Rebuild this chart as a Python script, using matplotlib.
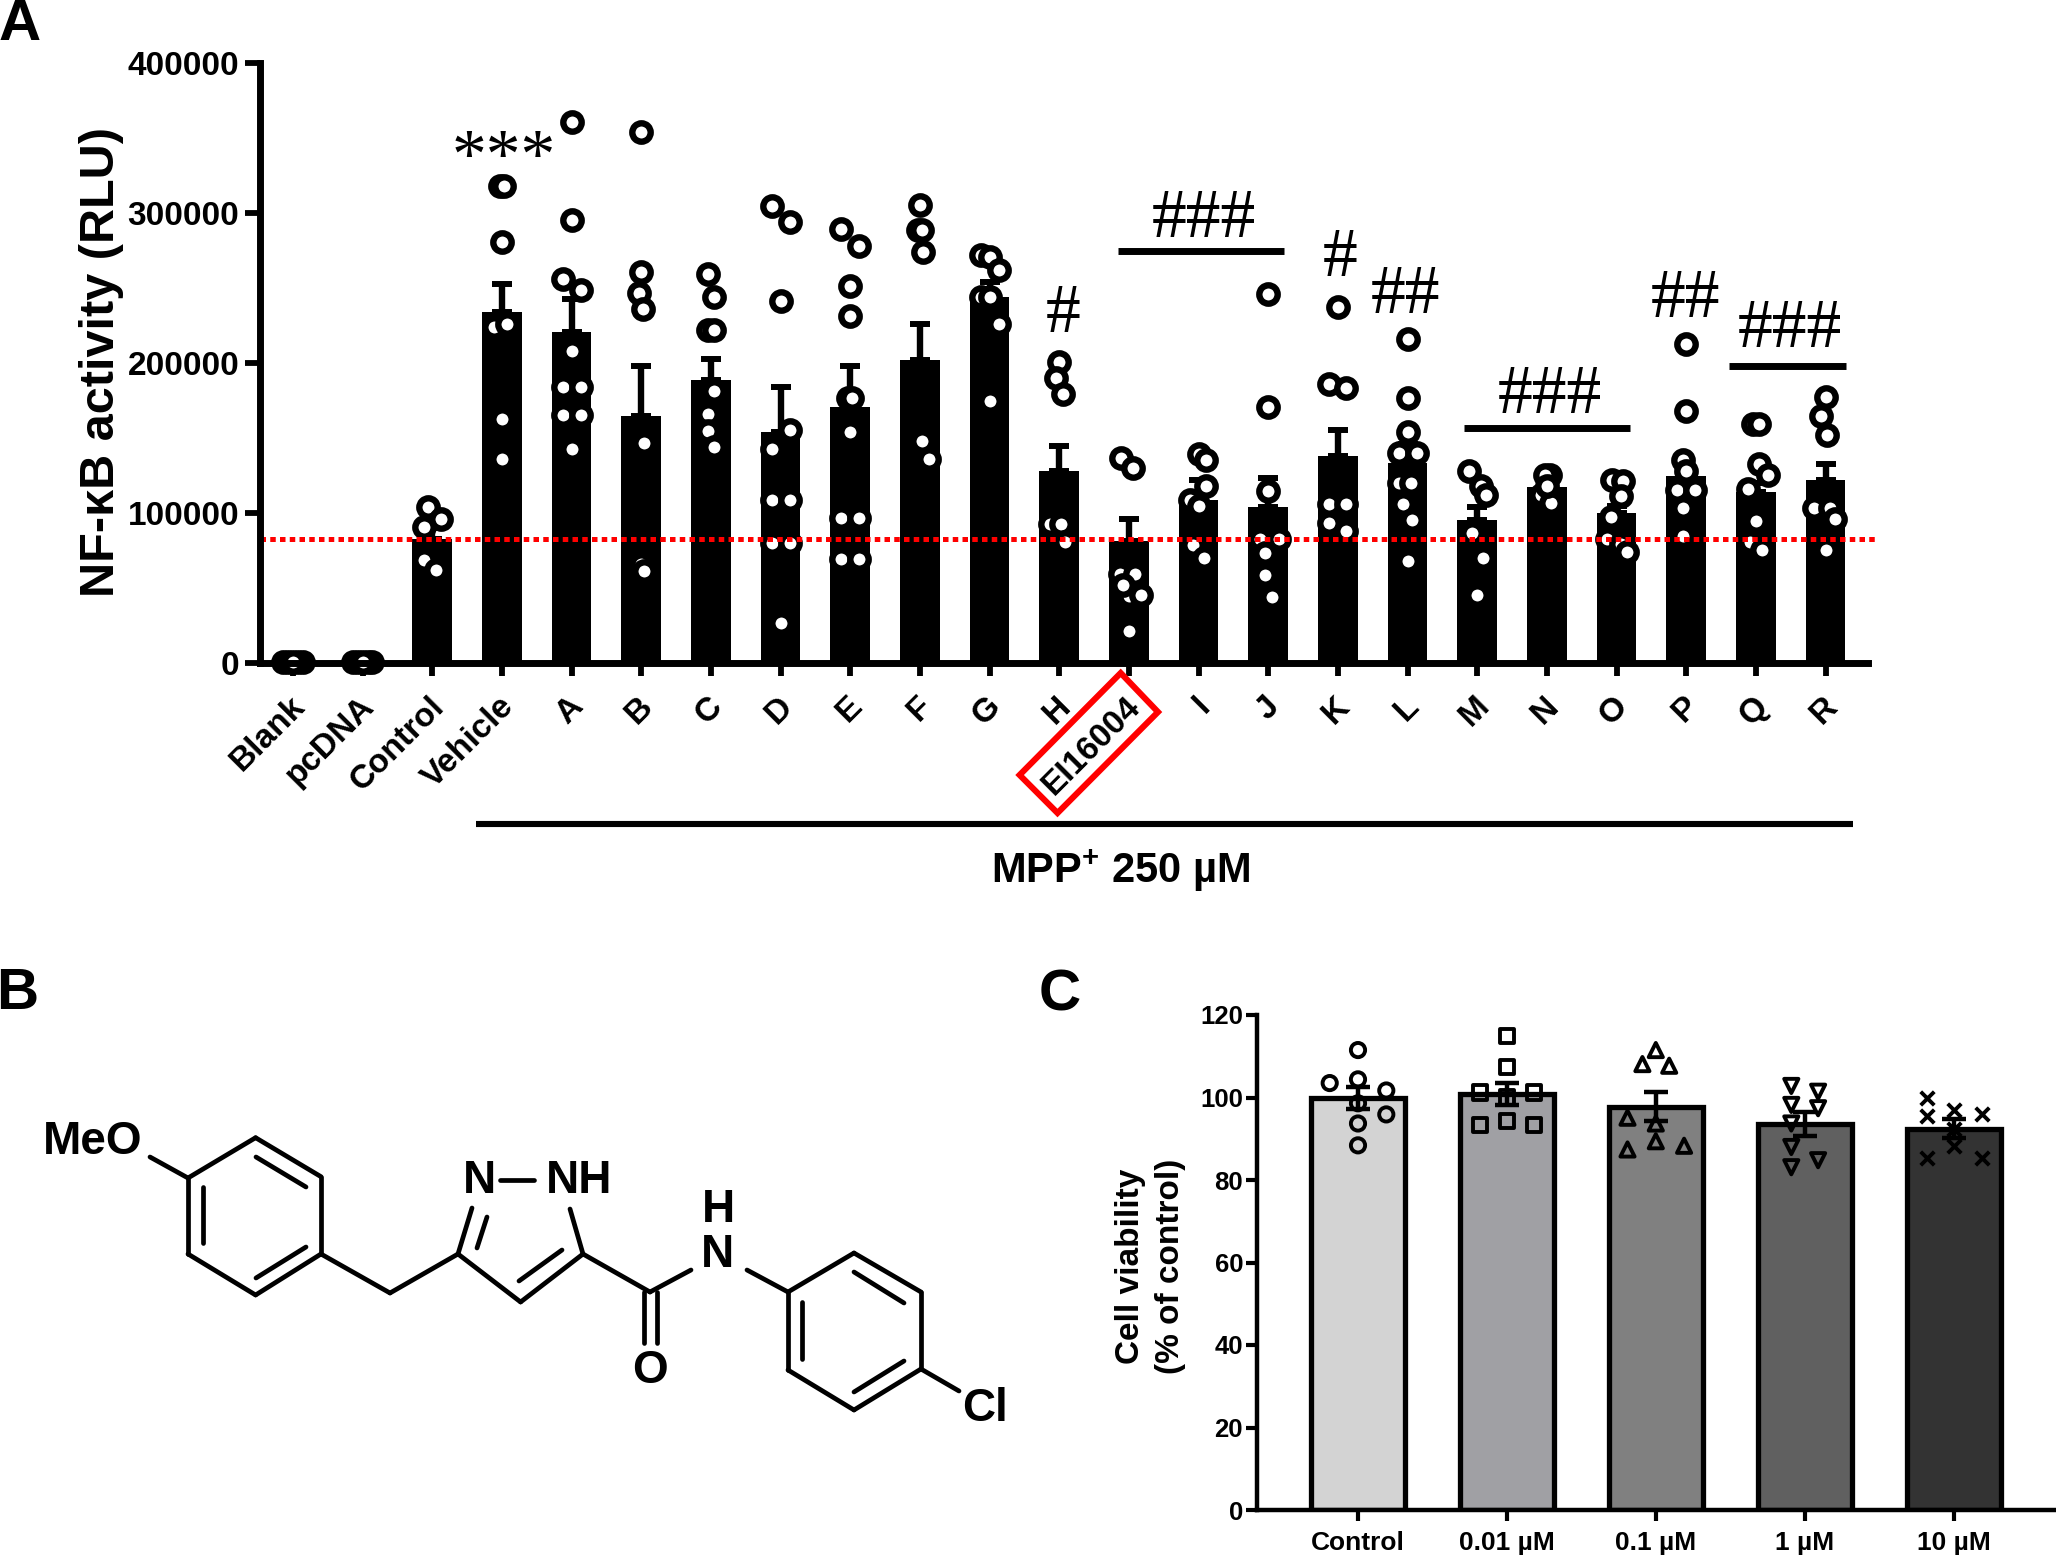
import matplotlib
matplotlib.use("Agg")
import matplotlib.pyplot as plt
from matplotlib.patches import Polygon

plt.rcParams["font.family"] = ["Liberation Sans", "DejaVu Sans"]
plt.rcParams["font.weight"] = "bold"
plt.rcParams["mathtext.fontset"] = "custom"
plt.rcParams["mathtext.rm"] = "Liberation Sans:bold"
plt.rcParams["mathtext.bf"] = "Liberation Sans:bold"

W, H = 2056, 1556

# panel A data
a_labels = ["Blank", "pcDNA", "Control", "Vehicle", "A", "B", "C", "D", "E", "F", "G", "H",
            "EI16004", "I", "J", "K", "L", "M", "N", "O", "P", "Q", "R"]
a_means = [1000, 1000, 82400, 234000, 220700, 164600, 189000, 153800, 171000, 202000, 244000, 127800,
           81400, 108800, 104000, 138000, 133500, 95400, 117200, 100000, 124700, 114000, 122000]
a_tops = [1000, 1000, 90000, 253000, 243000, 198000, 203000, 184000, 198000, 226000, 254000, 145000,
          96000, 122000, 123500, 155500, 146000, 104000, 121000, 105000, 129000, 120000, 133000]
a_points = [
    [1000, 1000, 1000, 1000, 1000],
    [1000, 1000, 1000, 1000, 1000],
    [103700, 95700, 90700, 68600, 61700],
    [318000, 318000, 280700, 224000, 226000, 163000, 136000],
    [360400, 295400, 255900, 248400, 208300, 184200, 184200, 165400, 165400, 142700],
    [354300, 260800, 246700, 236000, 146600, 65800, 61100],
    [259500, 243700, 222100, 222100, 181400, 166200, 154900, 143800],
    [304500, 294000, 241200, 155200, 142400, 108700, 108700, 79700, 79700, 26800],
    [289600, 277700, 251200, 231200, 176500, 176500, 153800, 96800, 96800, 69400, 69400],
    [305100, 289000, 289000, 273800, 148300, 135800],
    [271900, 270500, 262200, 244200, 244200, 225700, 174800],
    [200800, 190000, 179200, 92900, 92900, 80500],
    [136400, 129800, 59600, 59600, 44700, 45100, 21300, 52000],
    [139200, 135200, 118100, 109000, 78400, 69700, 105000],
    [246100, 171000, 114800, 83000, 83000, 73200, 58700, 43700],
    [237600, 186200, 183600, 106000, 106000, 93100, 87900],
    [215700, 176400, 153900, 139900, 139900, 120000, 120000, 106000, 95400, 67800],
    [127700, 118100, 111800, 86500, 69700, 45100],
    [125400, 125400, 111800, 106400, 118000],
    [122300, 121200, 111100, 97300, 83000, 79100, 73700],
    [212800, 167900, 135200, 128200, 115300, 115300, 103600, 84400],
    [159300, 159300, 132400, 125100, 116000, 95000, 80700, 75500],
    [177300, 164900, 152300, 103100, 103100, 96100, 75100],
]
a_jitter = [
    [-0.14, 0.14, -0.07, 0.07, 0],
    [-0.14, 0.14, -0.07, 0.07, 0],
    [-0.06, 0.12, -0.12, -0.12, 0.06],
    [-0.03, 0.03, 0, -0.12, 0.07, 0, 0],
    [0, 0, -0.13, 0.13, 0, -0.13, 0.13, -0.13, 0.13, 0],
    [0, 0, -0.04, 0.03, 0.04, 0, 0.04],
    [-0.04, 0.05, -0.04, 0.04, 0.05, -0.04, -0.04, 0.05],
    [-0.13, 0.13, 0, 0.13, -0.13, -0.13, 0.13, -0.13, 0.13, 0],
    [-0.13, 0.13, 0, 0, -0.03, 0.03, 0, -0.13, 0.13, -0.13, 0.13],
    [0, -0.03, 0.03, 0.05, 0.03, 0.13],
    [-0.13, 0, 0.13, -0.13, 0, 0.13, 0],
    [0, -0.05, 0.05, -0.14, 0.02, 0.08],
    [-0.11, 0.06, -0.13, 0.09, 0, 0.17, 0, -0.08],
    [0, 0.1, 0.11, -0.12, -0.08, 0.08, 0],
    [0, 0, 0, -0.12, 0.15, -0.04, -0.04, 0.05],
    [0, -0.13, 0.12, -0.13, 0.12, -0.13, 0.12],
    [0, 0, 0, -0.12, 0.13, -0.12, 0.05, -0.06, 0.07, 0],
    [-0.12, 0.05, 0.13, -0.08, 0.08, 0],
    [0.04, -0.03, -0.08, 0.06, 0],
    [-0.07, 0.09, 0.07, -0.08, -0.13, 0.07, 0.15],
    [0, 0, -0.05, 0, -0.13, 0.13, -0.05, -0.05],
    [-0.04, 0.04, 0.05, 0.17, -0.12, 0, -0.08, 0.09],
    [0, -0.07, 0.02, -0.16, 0.07, 0.14, 0],
]
a_reference = 82500

# panel C data
c_labels = ["Control", "0.01 µM", "0.1 µM", "1 µM", "10 µM"]
c_means = [99.8, 100.8, 97.8, 93.6, 92.4]
c_errs = [2.7, 2.7, 3.6, 2.9, 2.3]
c_colors = ["#d3d3d3", "#a0a0a4", "#808080", "#606060", "#333333"]
c_markers = ["o", "s", "^", "v", "x"]
c_points = [
    [111.5, 103.5, 104.4, 101.7, 98.6, 95.9, 93.7, 88.4],
    [115, 107.4, 101.2, 101.2, 100, 93.4, 94.3, 93.4],
    [111.5, 108.1, 107.7, 95.1, 93.7, 89.4, 87.4, 88.3],
    [102.8, 101.4, 98.2, 97.4, 93.7, 88, 84.8, 83.1],
    [99.8, 95.6, 97, 95.9, 92.4, 88.2, 85.3, 85.3],
]
c_jitter = [
    [0, -0.19, 0, 0.19, 0, 0.19, 0, 0],
    [0, 0, -0.18, 0.18, 0, -0.18, 0, 0.18],
    [0, -0.09, 0.09, -0.19, 0, 0, -0.19, 0.19],
    [-0.09, 0.09, -0.09, 0.09, -0.09, -0.09, 0.09, -0.09],
    [-0.18, -0.18, 0, 0.19, 0, 0, -0.18, 0.19],
]


def axes_px(left, top, right, bottom):
    return fig.add_axes([left / W, 1 - bottom / H, (right - left) / W, (bottom - top) / H])


def bond(x0, y0, x1, y1, lw=3.4):
    overlay.plot([x0, x1], [y0, y1], color="black", lw=lw, solid_capstyle="round")


fig = plt.figure(figsize=(W / 100, H / 100), dpi=100, facecolor="white")

# Panel A
ax = axes_px(260, 63, 1868, 663)
step = 69.66
ax.set_xlim((260 - 293) / step, (1868 - 293) / step)
ax.set_ylim(0, 400000)
xs = list(range(len(a_labels)))
ax.bar(xs, a_means, width=0.57, color="black", zorder=2)
for x, mean, top in zip(xs, a_means, a_tops):
    ax.errorbar(x, mean, yerr=[[0], [top - mean]], color="black", elinewidth=4.6, capsize=7.5,
                capthick=4.3, zorder=2)
for x, vals, jit in zip(xs, a_points, a_jitter):
    ax.scatter([x + j for j in jit], vals, s=175, facecolor="white", edgecolor="black",
               linewidths=4.6, zorder=3, clip_on=False)
ax.plot([(260 - 293) / step, (1875 - 293) / step], [a_reference, a_reference], color="#ff0000", lw=3.6,
        ls=(0, (1.1, 0.85)), zorder=4, clip_on=False)
ax.spines[["top", "right"]].set_visible(False)
ax.spines["left"].set_linewidth(5)
ax.spines["bottom"].set_linewidth(5)
ax.spines["left"].set_zorder(5)
ax.spines["bottom"].set_zorder(5)
ax.set_yticks([0, 100000, 200000, 300000, 400000])
ax.tick_params(axis="y", length=11, width=4.2, labelsize=24, pad=4)
ax.tick_params(axis="x", length=9, width=4.2, pad=11)
ax.set_xticks(xs)
ax.set_xticklabels(a_labels, rotation=45, ha="right", va="top", rotation_mode="anchor", fontsize=24)
for lab in ax.get_xticklabels():
    lab.set_transform(lab.get_transform() + matplotlib.transforms.ScaledTranslation(-3 / 72, 0, fig.dpi_scale_trans))
ax.set_facecolor("none")

# Panel C
ac = axes_px(1257, 1015, 2056, 1510)
cstep = 148.9
ac.set_xlim((1257 - 1358) / cstep, (2056 - 1358) / cstep)
ac.set_ylim(0, 120)
cx = list(range(len(c_labels)))
ac.bar(cx, c_means, width=0.63, color=c_colors, edgecolor="black", linewidth=3.8, zorder=2)
ac.errorbar(cx, c_means, yerr=c_errs, fmt="none", ecolor="black", elinewidth=3.2, capsize=8.5, capthick=3.2,
            zorder=4)
for x, vals, jit, mk in zip(cx, c_points, c_jitter, c_markers):
    if mk == "x":
        ac.scatter([x + j for j in jit], vals, s=95, marker=mk, color="black", linewidths=2.8, zorder=3)
    else:
        ac.scatter([x + j for j in jit], vals, s=105, marker=mk, facecolor="none", edgecolor="black",
                   linewidths=2.8, zorder=3)
ac.spines[["top", "right"]].set_visible(False)
ac.spines["left"].set_linewidth(3.2)
ac.spines["bottom"].set_linewidth(3.2)
ac.set_yticks(range(0, 121, 20))
ac.set_xticks(cx)
ac.set_xticklabels(c_labels, fontsize=19)
ac.tick_params(axis="y", length=8, width=3, labelsize=18.5, pad=2)
ac.tick_params(axis="x", length=8, width=3, pad=7)
ac.set_facecolor("none")

# overlay in pixels for labels, brackets and the structure
overlay = fig.add_axes([0, 0, 1, 1])
overlay.set_xlim(0, W)
overlay.set_ylim(H, 0)
overlay.axis("off")

overlay.text(102, 362, "NF-κB activity (RLU)", rotation=90, ha="center", va="center", fontsize=35)
overlay.text(1131, 1266, "Cell viability", rotation=90, ha="center", va="center", fontsize=24)
overlay.text(1171, 1266, "(% of control)", rotation=90, ha="center", va="center", fontsize=24)
overlay.text(20, 25, "A", ha="center", va="center", fontsize=42)
overlay.text(17, 994, "B", ha="center", va="center", fontsize=42)
overlay.text(1060, 995, "C", ha="center", va="center", fontsize=42)

overlay.plot([476, 1853], [824, 824], color="black", lw=4.4, solid_capstyle="butt")
overlay.text(1121, 871, r"MPP$^{+}$ 250 µM", ha="center", va="center", fontsize=30)
overlay.add_patch(Polygon([(1120.7, 673), (1158, 712), (1057.5, 813), (1019.6, 775)], closed=True, fill=False,
                          edgecolor="#ff0000", lw=4.4, joinstyle="miter"))

serif = {"family": "Liberation Serif", "fontweight": "normal", "ha": "center", "va": "center"}
overlay.text(504, 160, "***", fontsize=50, **serif)
for x, y, s in [(1063, 315, "#"), (1204, 220, "###"), (1340, 259, "#"), (1406, 296, "##"),
                (1550, 396, "###"), (1686, 300, "##"), (1790, 330, "###")]:
    overlay.text(x, y, s, fontsize=50, **serif)
for x0, x1, y in [(1118, 1284, 251), (1464, 1630, 428), (1729, 1846, 366)]:
    overlay.plot([x0, x1], [y, y], color="black", lw=5, solid_capstyle="butt")

# structure
ring1 = [(255.6, 1137.7), (321, 1176.7), (321, 1254), (255.6, 1295), (188, 1254), (188, 1178)]
ring2 = [(854, 1253), (921, 1292), (921, 1369), (854, 1410), (788, 1370), (788, 1292)]
for ring in (ring1, ring2):
    for i in range(6):
        bond(*ring[i], *ring[(i + 1) % 6])
for seg in [(150, 1157, 188, 1178), (321, 1254, 390, 1293), (390, 1293, 458, 1254),
            (458, 1254, 472, 1208), (570, 1209, 583, 1254), (583, 1254, 520.6, 1302), (520.6, 1302, 458, 1254),
            (583, 1254, 650, 1292), (650, 1292, 691, 1270), (747, 1270, 788, 1292), (921, 1369, 959, 1391),
            (644, 1292, 644, 1343), (657, 1292, 657, 1343), (500, 1180, 534, 1180),
            (256, 1157, 306, 1187), (203, 1187, 203, 1243), (256, 1278, 306, 1247),
            (854, 1272, 904, 1303), (802, 1302, 802, 1359), (854, 1392, 904, 1361),
            (487, 1217, 477, 1248), (562, 1250, 519, 1281)]:
    bond(*seg)
for x, y, s in [(93, 1142, "MeO"), (479, 1181, "N"), (579, 1181, "NH"), (718, 1210, "H"), (718, 1255, "N"),
                (650, 1371, "O"), (985, 1409, "Cl")]:
    overlay.text(x, y, s, ha="center", va="center", fontsize=33)

fig.savefig("out.png", dpi=100, facecolor="white")
